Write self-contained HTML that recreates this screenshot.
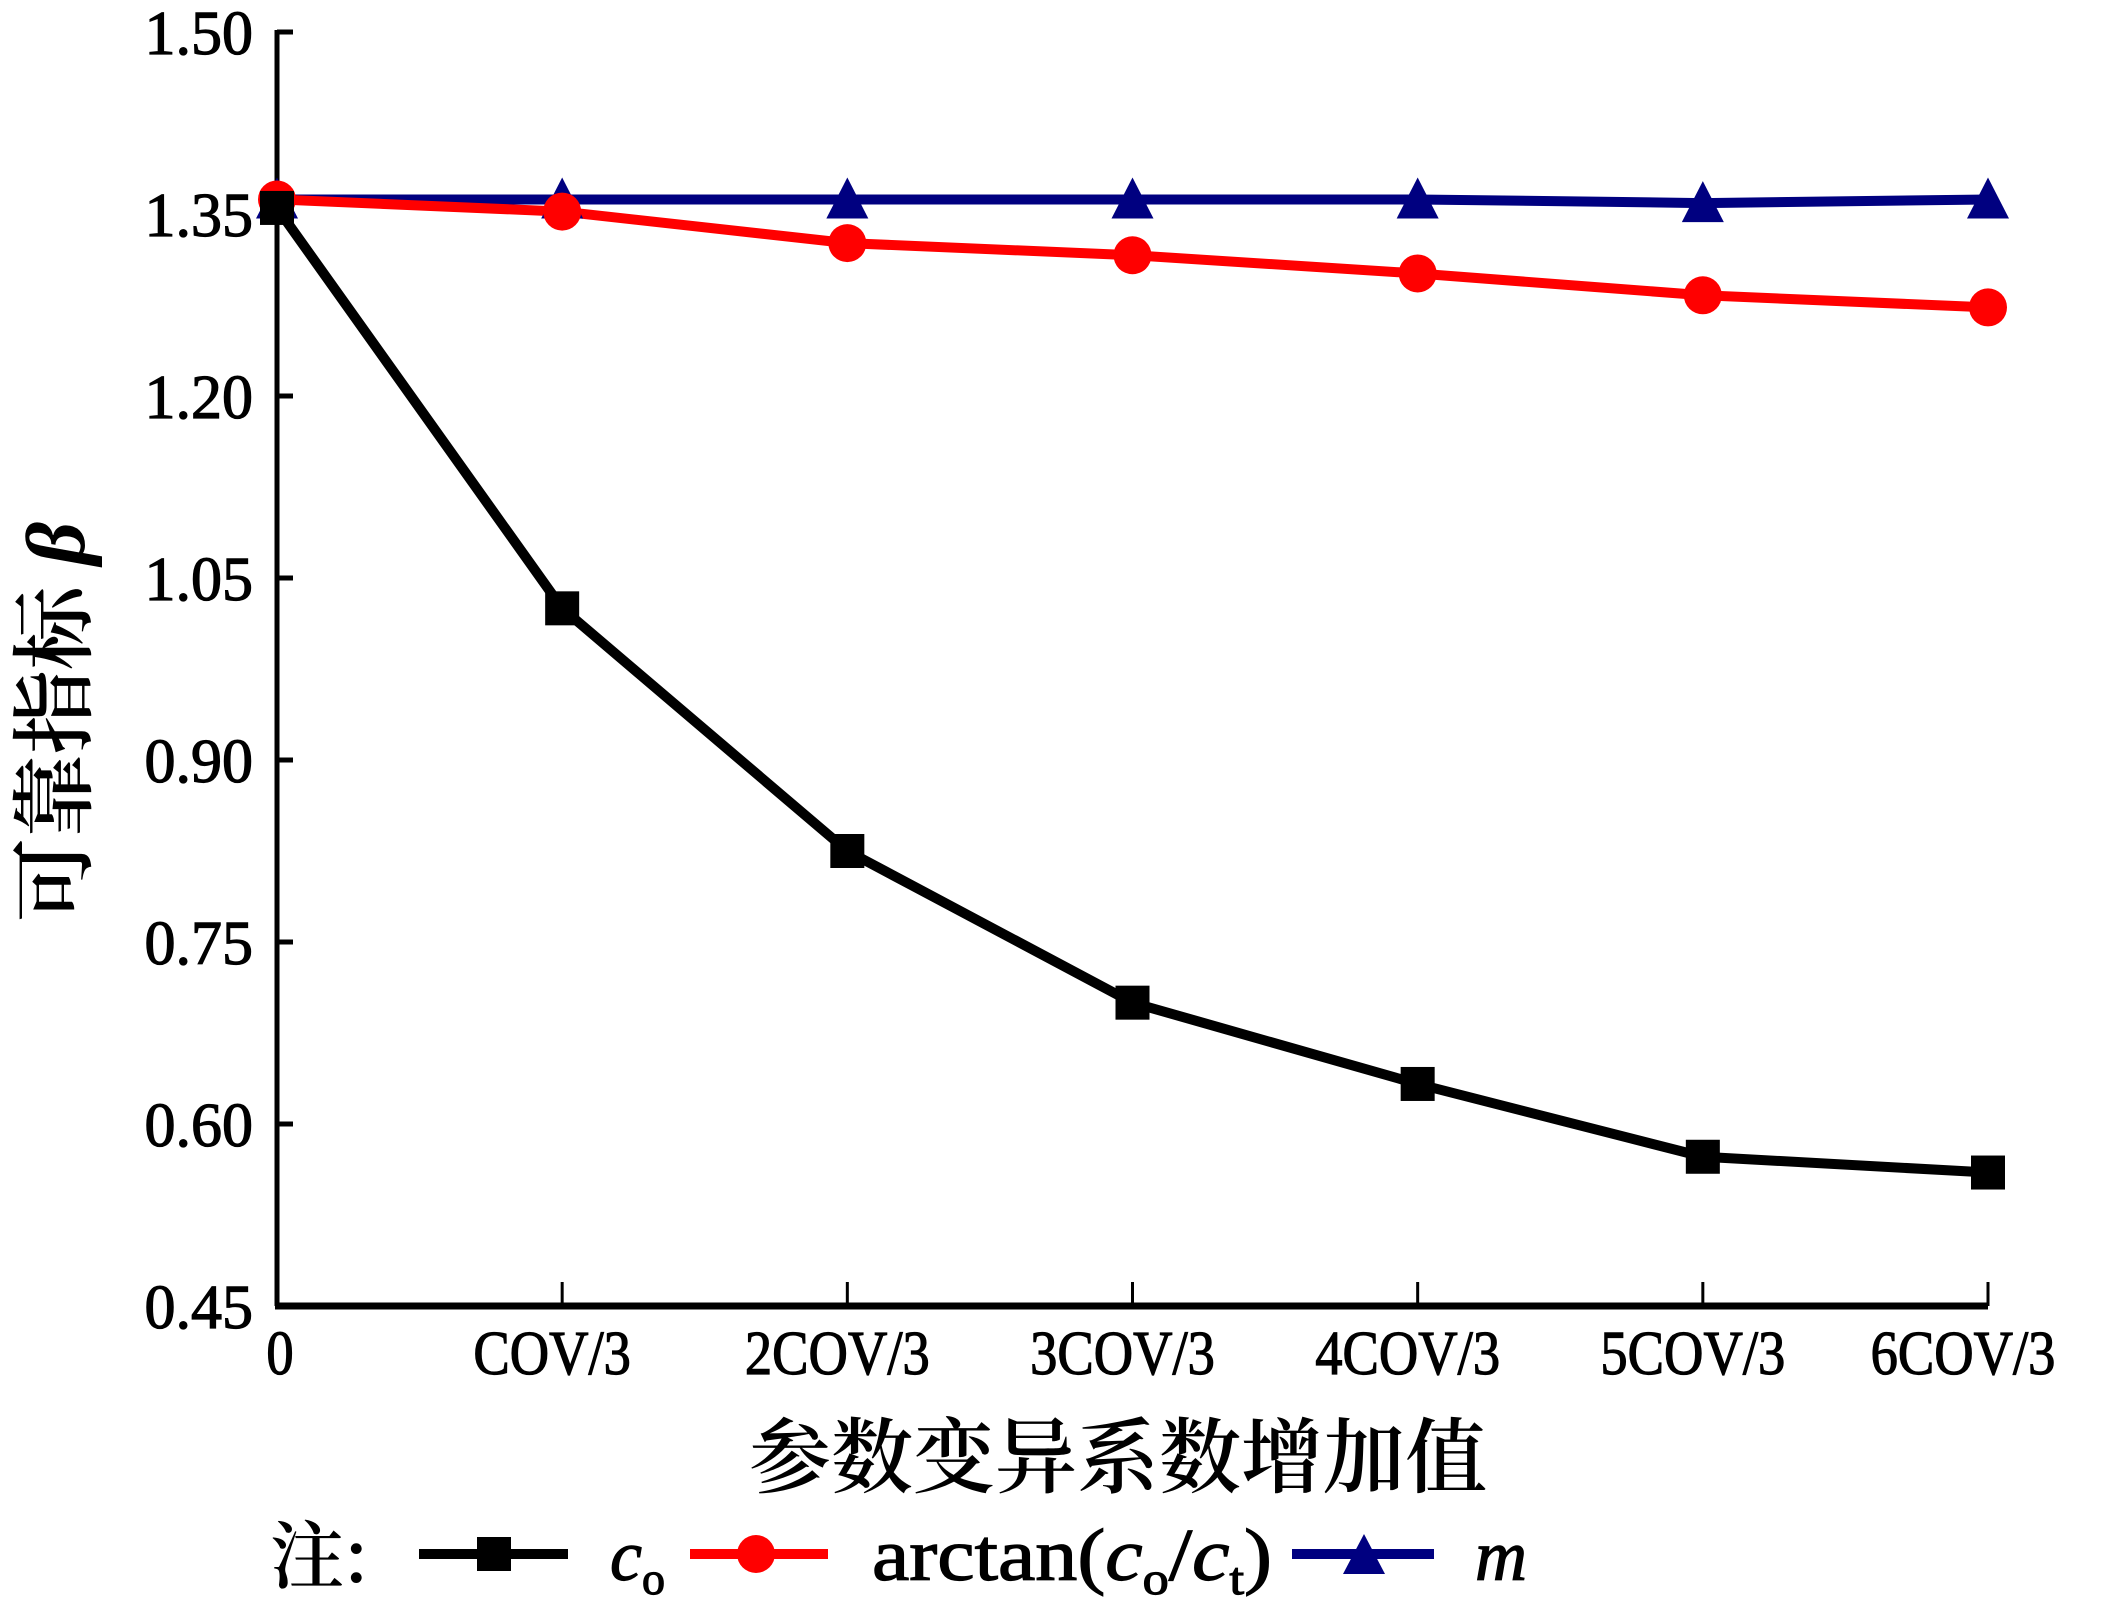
<!DOCTYPE html>
<html><head><meta charset="utf-8"><style>
html,body{margin:0;padding:0;background:#fff;}
svg{display:block;}
text{font-family:"Liberation Serif","Noto Serif CJK SC",serif;fill:#000;}
.tk{stroke:#000;stroke-width:1.2px;}
</style></head><body>
<svg id="chart" width="2119" height="1598" viewBox="0 0 2119 1598" xmlns="http://www.w3.org/2000/svg">
<g id="axes"></g>
<g id="series"></g>
<text x="1118" y="1486" font-size="82" text-anchor="middle" style="font-family:'Noto Serif CJK SC',serif;font-weight:600">参数变异系数增加值</text>
<text transform="translate(84,722) rotate(-90)" font-size="84" text-anchor="middle" style="font-family:'Noto Serif CJK SC',serif;font-weight:600">可靠指标 <tspan font-style="italic" font-family="Liberation Serif">β</tspan></text>
<g id="legend">
<text x="270" y="1582" font-size="74" style="font-family:'Noto Serif CJK SC',serif;font-weight:600">注:</text>
<g>
<line x1="419" y1="1554" x2="568" y2="1554" stroke="#000" stroke-width="10"/>
<rect x="477" y="1537" width="34" height="34" fill="#000"/>
<text class="tk" x="610" y="1580" font-size="72" font-style="italic">c<tspan font-size="46" font-style="normal" dy="14">o</tspan></text>
</g>
<g>
<line x1="690" y1="1554" x2="828" y2="1554" stroke="#ff0000" stroke-width="10"/>
<circle cx="756" cy="1554" r="19" fill="#ff0000"/>
<text class="tk" x="872" y="1580" font-size="74" textLength="400" lengthAdjust="spacingAndGlyphs">arctan(<tspan font-style="italic">c</tspan><tspan font-size="46" dy="14">o</tspan><tspan dy="-14">/</tspan><tspan font-style="italic">c</tspan><tspan font-size="46" dy="14">t</tspan><tspan dy="-14">)</tspan></text>
</g>
<g>
<line x1="1292" y1="1554" x2="1434" y2="1554" stroke="#000080" stroke-width="10"/>
<polygon points="1364,1534 1385,1574 1343,1574" fill="#000080"/>
<text class="tk" x="1475" y="1580" font-size="72" font-style="italic">m</text>
</g>
</g>
</svg>
<script>
const categories = ["0","COV/3","2COV/3","3COV/3","4COV/3","5COV/3","6COV/3"];
const yTicks = [0.45,0.60,0.75,0.90,1.05,1.20,1.35,1.50];
const yTickLabels = ["0.45","0.60","0.75","0.90","1.05","1.20","1.35","1.50"];
const seriesCo = [1.355,1.025,0.825,0.700,0.633,0.573,0.560];
const seriesArctan = [1.362,1.352,1.326,1.316,1.301,1.283,1.273];
const seriesM = [1.362,1.362,1.362,1.362,1.362,1.359,1.362];

const NS="http://www.w3.org/2000/svg";
const X0=277,X1=1988,Y0=1306,Y1=32,YMIN=0.45,YMAX=1.50;
function xs(i){return X0+(X1-X0)*i/(categories.length-1);}
function ys(v){return Y0-(v-YMIN)/(YMAX-YMIN)*(Y0-Y1);}
function mk(tag,attrs,parent){const e=document.createElementNS(NS,tag);for(const k in attrs)e.setAttribute(k,attrs[k]);parent.appendChild(e);return e;}
const axes=document.getElementById('axes');
let a=mk('line',{x1:X0,y1:Y1-2,x2:X0,y2:Y0,stroke:'#000','stroke-width':5},axes);


a=mk('line',{x1:X0-2,y1:Y0,x2:X1,y2:Y0,stroke:'#000','stroke-width':7},axes);


yTicks.forEach((v,i)=>{
  const t=mk('line',{x1:X0,y1:ys(v),x2:X0+16,y2:ys(v),stroke:'#000','stroke-width':5},axes);
  
  
  const l=mk('text',{x:X0-24,y:ys(v)+22,'font-size':62,'text-anchor':'end','class':'tk'},axes);
  l.textContent=yTickLabels[i];
  
  
});
categories.forEach((c,i)=>{
  if(i>0){const t=mk('line',{x1:xs(i),y1:Y0,x2:xs(i),y2:Y0-24,stroke:'#000','stroke-width':3},axes);
  
  }
  const cx=xs(i)+(i==0?3:(i==categories.length-1?-25:-10));
  const l=mk('text',{x:0,y:0,'font-size':62,'text-anchor':'middle','class':'tk',transform:`translate(${cx},1374) scale(0.88,1)`},axes);
  l.textContent=c;
  
  
});
const sg=document.getElementById('series');
function drawLine(vals,color,name){
  const p=mk('polyline',{points:vals.map((v,i)=>xs(i)+','+ys(v)).join(' '),fill:'none',stroke:color,'stroke-width':10,'stroke-linejoin':'round'},sg);
  
  
}
drawLine(seriesM,'#000080','m');
drawLine(seriesArctan,'#ff0000','arctan');
drawLine(seriesCo,'#000','co');
seriesM.forEach((v,i)=>{const x=xs(i),y=ys(v);
  const m=mk('polygon',{points:`${x},${y-22} ${x+21},${y+19} ${x-21},${y+19}`,fill:'#000080'},sg);
  
  });
seriesArctan.forEach((v,i)=>{
  const m=mk('circle',{cx:xs(i),cy:ys(v),r:19,fill:'#ff0000'},sg);
  
  });
seriesCo.forEach((v,i)=>{
  const m=mk('rect',{x:xs(i)-17,y:ys(v)-17,width:34,height:34,fill:'#000'},sg);
  
  });
</script>
</body></html>
